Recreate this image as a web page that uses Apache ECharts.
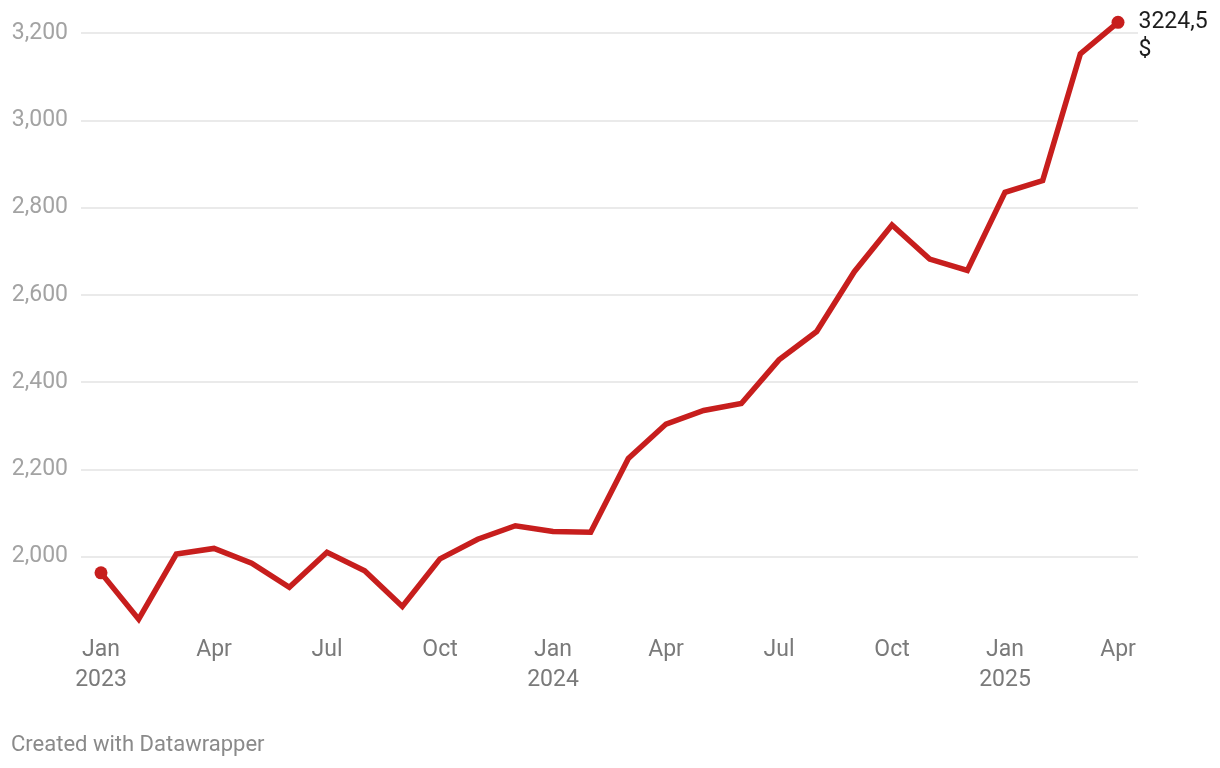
<!DOCTYPE html>
<html>
<head>
<meta charset="utf-8">
<script src="https://cdn.jsdelivr.net/npm/echarts@6/dist/echarts.min.js"></script>
<style>
  html, body { margin: 0; padding: 0; background: #fff; }
  #chart { width: 1220px; height: 768px; }
</style>
</head>
<body>
<div id="chart"></div>
<script>
const categories = [
  'Jan\n2023','Feb','Mar','Apr','May','Jun','Jul','Aug','Sep','Oct','Nov','Dec',
  'Jan\n2024','Feb','Mar','Apr','May','Jun','Jul','Aug','Sep','Oct','Nov','Dec',
  'Jan\n2025','Feb','Mar','Apr'
];
const prices = [
  1963, 1857, 2006, 2019, 1985, 1930, 2010, 1968, 1886, 1995, 2040, 2071,
  2058, 2056, 2225, 2304, 2335, 2351, 2451, 2516, 2653, 2760, 2682, 2656,
  2835, 2862, 3152, 3224.5
];
const yMin = 1800, yMax = 3200, yStep = 200;
const endLabel = '3224,5\n$';
const footer = 'Created with Datawrapper';

const FONT = 'Roboto, "Noto Sans", sans-serif';
const RED = '#c71e1d';
const last = prices.length - 1;

const chart = echarts.init(document.getElementById('chart'), null, { renderer: 'canvas' });
chart.setOption({
  backgroundColor: '#ffffff',
  animation: false,
  textStyle: { fontFamily: FONT },
  graphic: [{
    type: 'text', left: 11, top: 734,
    style: { text: footer, fill: '#8a8a8a', font: '22px ' + FONT }
  }],
  grid: [
    { left: 81, right: 82, top: 33, bottom: 124, containLabel: false },
    { left: 101, right: 102, top: 33, bottom: 124, containLabel: false }
  ],
  xAxis: [
    { type: 'value', gridIndex: 0, show: false, min: 0, max: 1 },
    {
      type: 'category', gridIndex: 1, data: categories, boundaryGap: false,
      axisLine: { show: false }, axisTick: { show: false }, splitLine: { show: false },
      axisLabel: {
        interval: 2, color: '#7a7a7a', fontSize: 23, lineHeight: 30,
        margin: -9, fontFamily: FONT
      }
    }
  ],
  yAxis: [
    {
      type: 'value', gridIndex: 0, min: yMin, max: yMax, interval: yStep,
      axisLine: { show: false }, axisTick: { show: false },
      axisLabel: {
        color: '#a3a3a3', fontSize: 23, margin: 13, fontFamily: FONT,
        showMinLabel: false,
        formatter: v => v.toLocaleString('en-US')
      },
      splitLine: { show: true, showMinLine: false, lineStyle: { color: '#e3e3e3', width: 1.5 } }
    },
    {
      type: 'value', gridIndex: 1, min: yMin, max: yMax, interval: yStep, show: false,
      splitLine: { show: false }
    }
  ],
  series: [{
    type: 'line', xAxisIndex: 1, yAxisIndex: 1, clip: false,
    data: prices.map((v, i) => {
      if (i === 0 || i === last) {
        return {
          value: v, symbol: 'circle', symbolSize: 13,
          label: i === last ? {
            show: true, position: 'right', distance: 14, offset: [0, 14],
            formatter: endLabel, color: '#1d1d1d', fontSize: 23, lineHeight: 28,
            fontFamily: FONT, align: 'left'
          } : { show: false }
        };
      }
      return { value: v, symbol: 'none' };
    }),
    showSymbol: true,
    lineStyle: { color: RED, width: 5.5, join: 'miter' },
    itemStyle: { color: RED },
    emphasis: { disabled: true }
  }]
});
</script>
</body>
</html>
